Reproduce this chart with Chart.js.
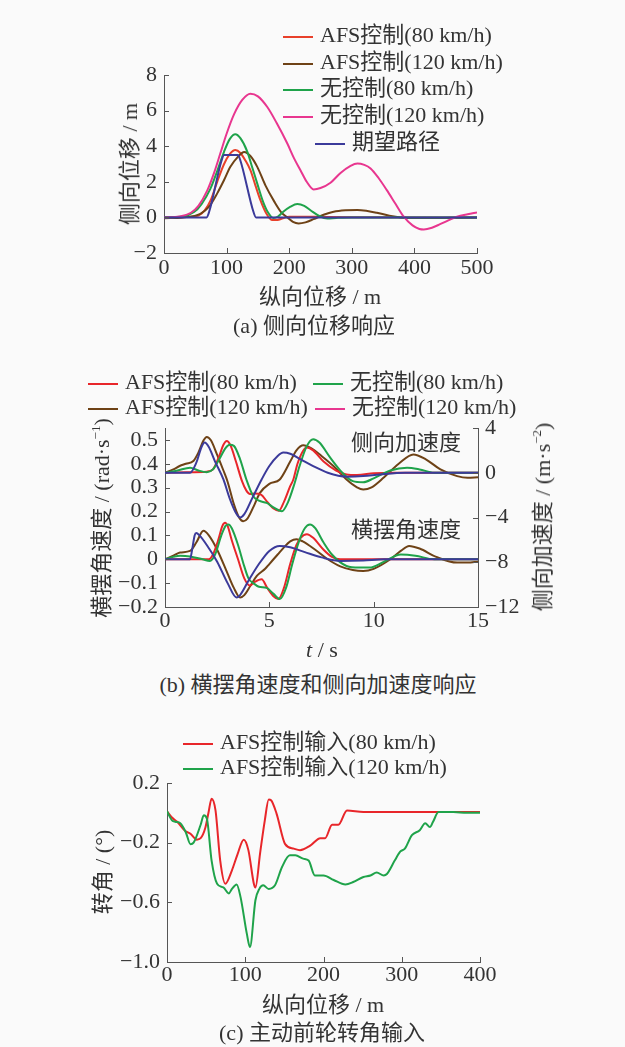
<!DOCTYPE html>
<html>
<head>
<meta charset="utf-8">
<script src="https://cdn.jsdelivr.net/npm/chart.js@4.4.1/dist/chart.umd.min.js"></script>
<style>
  html, body { margin: 0; padding: 0; }
  body {
    width: 625px; height: 1047px; position: relative; overflow: hidden;
    background: #fafafa; color: #333;
    font-family: "Liberation Serif", "Noto Sans CJK SC", serif; font-size: 22px;
  }
  canvas { position: absolute; left: 0; }
  .t { position: absolute; white-space: nowrap; line-height: 1; transform: translate(-50%, -50%); }
  .v { position: absolute; white-space: nowrap; line-height: 1; transform: translate(-50%, -50%) rotate(-90deg); }
  .leg { position: absolute; white-space: nowrap; line-height: 1; transform: translateY(-50%); }
  .leg i { display: inline-block; width: 30px; height: 2px; vertical-align: middle; margin-right: 7px; }
  sup { font-size: 13px; vertical-align: 9px; line-height: 0; }
</style>
</head>
<body>

<canvas id="chartA" width="625" height="290" style="top:0"></canvas>
<canvas id="chartB" width="625" height="340" style="top:300px"></canvas>
<canvas id="chartC" width="625" height="300" style="top:700px"></canvas>

<!-- (a) -->
<div class="leg" style="left:283px; top:35px"><i style="background:#e8402a"></i>AFS控制(80 km/h)</div>
<div class="leg" style="left:283px; top:62px"><i style="background:#6e4216"></i>AFS控制(120 km/h)</div>
<div class="leg" style="left:283px; top:88px"><i style="background:#1fa34a"></i>无控制(80 km/h)</div>
<div class="leg" style="left:283px; top:115px"><i style="background:#e8368f"></i>无控制(120 km/h)</div>
<div class="leg" style="left:315px; top:142px"><i style="background:#3b3a9a"></i>期望路径</div>
<div class="v" style="left:130px; top:164px">侧向位移 / m</div>
<div class="t" style="left:320px; top:297px">纵向位移 / m</div>
<div class="t" style="left:314px; top:326px">(a) 侧向位移响应</div>

<!-- (b) -->
<div class="leg" style="left:88px; top:382px"><i style="background:#e8262a"></i>AFS控制(80 km/h)</div>
<div class="leg" style="left:88px; top:407px"><i style="background:#6e4216"></i>AFS控制(120 km/h)</div>
<div class="leg" style="left:313px; top:382px"><i style="background:#1fa34a"></i>无控制(80 km/h)</div>
<div class="leg" style="left:315px; top:407px"><i style="background:#e8368f"></i>无控制(120 km/h)</div>
<div class="t" style="left:406px; top:443px">侧向加速度</div>
<div class="t" style="left:406px; top:530px">横摆角速度</div>
<div class="v" style="left:102px; top:518px">横摆角速度 / (rad·s<sup>−1</sup>)</div>
<div class="v" style="left:543px; top:517px">侧向加速度 / (m·s<sup>−2</sup>)</div>
<div class="t" style="left:322px; top:650px"><i>t</i> / s</div>
<div class="t" style="left:318px; top:685px">(b) 横摆角速度和侧向加速度响应</div>

<!-- (c) -->
<div class="leg" style="left:183px; top:742px"><i style="background:#e8262a"></i>AFS控制输入(80 km/h)</div>
<div class="leg" style="left:183px; top:767px"><i style="background:#1fa34a"></i>AFS控制输入(120 km/h)</div>
<div class="v" style="left:103px; top:872px">转角 / (°)</div>
<div class="t" style="left:323px; top:1005px">纵向位移 / m</div>
<div class="t" style="left:322px; top:1033px">(c) 主动前轮转角输入</div>

<script>
// (a) lateral displacement vs longitudinal distance (m)
const aAfs80X = [0, 40, 55, 65, 75, 85, 96, 105, 114, 122, 130, 138, 146, 154, 163, 173, 181, 190, 200, 240, 300, 500];
const aAfs80Y = [0, 0.02, 0.1, 0.4, 1.0, 2.0, 3.0, 3.55, 3.78, 3.62, 3.2, 2.65, 1.8, 0.97, 0.25, -0.15, -0.14, -0.05, 0.04, 0.03, 0.01, 0];
const aAfs120X = [0, 30, 58, 72, 85, 96, 106, 118, 128, 138, 149, 162, 176, 187, 197, 206, 215, 226, 239, 255, 271, 290, 309, 325, 340, 360, 378, 400, 500];
const aAfs120Y = [-0.05, 0, 0.2, 0.6, 1.35, 2.1, 2.84, 3.4, 3.68, 3.45, 2.84, 1.8, 0.9, 0.3, 0, -0.25, -0.34, -0.28, -0.1, 0.15, 0.32, 0.4, 0.42, 0.36, 0.26, 0.1, 0, -0.04, 0];
const aNo80X = [0, 30, 48, 60, 74, 85, 96, 105, 114, 122, 133, 141, 149, 157, 165, 175, 182, 190, 202, 213, 224, 234, 248, 261, 275, 300, 500];
const aNo80Y = [0, 0.05, 0.3, 0.75, 1.6, 2.6, 3.7, 4.4, 4.67, 4.45, 3.7, 2.8, 1.9, 1.0, 0.35, -0.03, 0.05, 0.3, 0.6, 0.75, 0.65, 0.4, 0.08, -0.06, -0.03, 0, 0];
const aNo120X = [0, 25, 43, 55, 69, 80, 90, 100, 112, 125, 138, 150, 165, 180, 197, 208, 218, 228, 239, 250, 266, 282, 298, 309, 320, 330, 343, 356, 370, 383, 397, 408, 415, 428, 441, 455, 468, 485, 500];
const aNo120Y = [0, 0.05, 0.26, 0.65, 1.5, 2.5, 3.6, 4.7, 5.8, 6.6, 6.95, 6.8, 6.2, 5.3, 4.15, 3.3, 2.65, 2.0, 1.57, 1.65, 1.95, 2.5, 2.9, 3.03, 2.95, 2.75, 2.2, 1.53, 0.75, 0.04, -0.45, -0.65, -0.68, -0.58, -0.38, -0.15, 0.04, 0.18, 0.28];
const aPathX = [0, 68, 72, 92, 96, 118, 122, 143, 147, 500];
const aPathY = [0, 0, 0.3, 3.2, 3.5, 3.5, 3.2, 0.3, 0, 0];
const aTicksX = [0, 100, 200, 300, 400, 500];
const aTicksY = [-2, 0, 2, 4, 6, 8];

// (b) time (s); upper group = lateral acceleration (right axis), lower group = yaw rate (left axis)
const bAccAfs80T = [0, 1.0, 2.0, 2.3, 2.6, 2.8, 2.96, 3.15, 3.4, 3.7, 3.9, 4.07, 4.3, 4.6, 4.9, 5.2, 5.45, 5.7, 6.0, 6.15, 6.35, 6.6, 6.8, 7.1, 7.6, 8.2, 8.7, 9.2, 10, 11, 15];
const bAccAfs80V = [0, 0.05, 0.1, 0.3, 1.5, 2.5, 2.84, 2.4, 1.0, -0.8, -1.6, -1.9, -1.85, -1.95, -2.6, -3.2, -3.4, -2.6, -1.2, -0.6, 0.8, 1.9, 2.25, 2.0, 1.0, 0.2, -0.15, -0.2, -0.05, 0, 0];
const bAccAfs120T = [0, 0.4, 0.7, 1.0, 1.36, 1.6, 1.85, 2.0, 2.2, 2.5, 2.8, 3.0, 3.3, 3.55, 3.75, 3.95, 4.3, 4.55, 5.0, 5.5, 6.0, 6.3, 6.63, 7.0, 7.5, 8.07, 8.7, 9.2, 9.5, 9.9, 10.5, 11.2, 11.9, 12.5, 13.2, 14.0, 14.5, 15];
const bAccAfs120V = [0, 0.3, 0.6, 0.8, 1.05, 1.8, 2.9, 3.2, 2.9, 1.6, 0.2, -0.8, -2.8, -4.0, -4.33, -4.1, -2.8, -1.8, -1.0, -0.6, 1.0, 2.0, 2.45, 2.2, 1.5, 0.6, -0.6, -1.3, -1.5, -1.3, -0.4, 0.8, 1.64, 1.2, 0.3, -0.3, -0.45, -0.4];
const bAccNo80T = [0, 0.6, 1.2, 1.6, 2.0, 2.3, 2.6, 2.9, 3.1, 3.3, 3.6, 3.9, 4.23, 4.5, 4.87, 5.2, 5.6, 5.9, 6.2, 6.45, 6.8, 7.1, 7.4, 7.9, 8.5, 9.0, 9.5, 10.0, 10.8, 11.6, 12.2, 12.9, 15];
const bAccNo80V = [0, 0.2, 0.45, 0.2, 0.05, 0.3, 1.2, 2.2, 2.5, 2.4, 1.2, -0.6, -2.1, -2.5, -2.7, -3.1, -3.45, -2.6, -1.0, 0.6, 2.4, 3.0, 2.7, 1.4, 0, -0.75, -0.85, -0.5, 0.2, 0.45, 0.3, 0, 0];
const bAccNo120T = [0, 1.2, 1.5, 1.75, 1.9, 2.1, 2.4, 2.8, 3.1, 3.4, 3.6, 3.8, 4.2, 4.63, 5.0, 5.4, 5.67, 6.0, 6.5, 7.1, 7.8, 8.7, 9.5, 10.3, 11.5, 15];
const bAccNo120V = [0, 0, 0.9, 2.3, 2.7, 2.3, 1.0, -0.6, -2.3, -3.6, -4.0, -3.7, -2.2, -0.6, 0.6, 1.5, 1.8, 1.7, 1.2, 0.6, 0, -0.35, -0.3, -0.15, 0, 0];

const bYawAfs80T = [0, 2.1, 2.3, 2.55, 2.75, 2.88, 3.0, 3.2, 3.5, 3.8, 4.07, 4.3, 4.63, 4.9, 5.2, 5.43, 5.7, 6.0, 6.3, 6.5, 6.8, 7.1, 7.6, 8.0, 8.4, 10, 15];
const bYawAfs80V = [0, 0, 0.02, 0.08, 0.14, 0.153, 0.14, 0.08, 0, -0.08, -0.11, -0.095, -0.084, -0.12, -0.155, -0.167, -0.12, -0.02, 0.06, 0.09, 0.105, 0.09, 0.04, 0.01, 0, 0, 0];
const bYawAfs120T = [0, 0.4, 0.72, 1.2, 1.5, 1.84, 2.1, 2.5, 3.0, 3.3, 3.6, 3.8, 4.1, 4.4, 4.8, 5.0, 5.4, 5.7, 6.0, 6.3, 6.6, 7.2, 7.8, 8.4, 9.0, 9.5, 10.0, 10.8, 11.3, 11.7, 12.2, 13.0, 14.0, 14.5, 15];
const bYawAfs120V = [0, 0.015, 0.028, 0.035, 0.07, 0.119, 0.1, 0.04, -0.06, -0.12, -0.16, -0.15, -0.11, -0.07, -0.04, -0.02, 0.02, 0.05, 0.075, 0.084, 0.075, 0.04, 0, -0.03, -0.045, -0.049, -0.04, 0, 0.035, 0.056, 0.045, 0.01, -0.014, -0.014, -0.01];
const bYawNo80T = [0, 0.4, 0.72, 1.2, 1.8, 2.15, 2.4, 2.7, 2.9, 3.04, 3.2, 3.5, 3.8, 4.0, 4.23, 4.5, 4.87, 5.2, 5.5, 5.8, 6.1, 6.4, 6.7, 6.95, 7.2, 7.6, 8.0, 8.7, 9.3, 9.8, 10.5, 11.3, 12.0, 12.9, 15];
const bYawNo80V = [0, 0.01, 0.015, 0.012, 0, -0.007, 0.02, 0.1, 0.14, 0.146, 0.13, 0.06, -0.03, -0.08, -0.1, -0.115, -0.12, -0.145, -0.167, -0.12, -0.02, 0.07, 0.13, 0.146, 0.13, 0.07, 0.02, -0.028, -0.035, -0.035, -0.01, 0.02, 0.015, 0, 0];
const bYawNo120T = [0, 1.2, 1.3, 1.42, 1.5, 1.65, 2.0, 2.5, 3.0, 3.43, 3.6, 4.0, 4.5, 5.0, 5.5, 6.0, 6.7, 7.5, 8.4, 9.5, 10.5, 15];
const bYawNo120V = [0, 0, 0.04, 0.1, 0.11, 0.1, 0.06, -0.01, -0.1, -0.16, -0.15, -0.09, -0.02, 0.035, 0.056, 0.05, 0.03, 0.008, -0.007, -0.005, 0, 0];
const bTicksT = [0, 5, 10, 15];
const bTicksYaw = [-0.2, -0.1, 0, 0.1, 0.2, 0.3, 0.4, 0.5];
const bTicksAcc = [-12, -8, -4, 0, 4];

// (c) steering input (deg) vs longitudinal distance (m)
const cAfs80X = [0, 6, 13, 23, 30, 38, 43, 49, 53, 57, 62, 68, 74.5, 83, 90, 98, 104, 111, 113, 119, 125, 130, 133, 140, 151, 162, 170, 183, 196, 202, 211, 219, 230, 251, 400];
const cAfs80Y = [0.01, -0.03, -0.06, -0.12, -0.14, -0.18, -0.17, -0.1, 0, 0.095, 0.016, -0.32, -0.475, -0.385, -0.28, -0.18, -0.25, -0.475, -0.5, -0.27, -0.05, 0.09, 0.085, -0.005, -0.21, -0.24, -0.25, -0.22, -0.17, -0.17, -0.08, -0.08, 0.016, 0.005, 0.005];
const cAfs120X = [0, 6.4, 10.6, 17, 24, 30, 34, 43, 47, 51, 57, 64, 72, 79, 83, 89, 94, 102, 106, 113, 118, 123, 130, 138, 147, 157, 164, 174, 181, 189, 200, 213, 228, 238, 251, 260, 268, 277, 281, 291, 298, 304, 313, 323, 330, 336, 340, 347, 366, 383, 400];
const cAfs120Y = [0.01, -0.05, -0.06, -0.07, -0.13, -0.21, -0.2, -0.08, -0.017, -0.04, -0.32, -0.475, -0.5, -0.54, -0.51, -0.48, -0.565, -0.81, -0.9, -0.586, -0.51, -0.486, -0.51, -0.486, -0.363, -0.285, -0.285, -0.307, -0.32, -0.42, -0.42, -0.45, -0.48, -0.464, -0.43, -0.42, -0.4, -0.42, -0.41, -0.32, -0.26, -0.24, -0.15, -0.117, -0.07, -0.095, -0.06, 0.005, 0.005, 0, 0];
const cTicksX = [0, 100, 200, 300, 400];
const cTicksY = [-1.0, -0.6, -0.2, 0.2];

const RED = '#e8262a', BROWN = '#6e4216', GREEN = '#1fa34a', PINK = '#e8368f', BLUE = '#3b3a9a';
const FONT = { family: 'Liberation Serif', size: 22 };

const pts = (xs, ys) => xs.map((x, i) => ({ x: x, y: ys[i] }));
const fmt = (v, d) => (v === 0 ? '0' : v.toFixed(d)).replace('-', '\u2212');

const line = (label, xs, ys, color, axis) => ({
  label: label,
  data: pts(xs, ys),
  borderColor: color,
  borderWidth: 2,
  pointRadius: 0,
  cubicInterpolationMode: 'monotone',
  yAxisID: axis || 'y'
});

// axis with a fixed set of ticks and a fixed box size, so the plot area lands where it should
const axis = (opts) => ({
  type: 'linear',
  position: opts.position,
  min: opts.min,
  max: opts.max,
  grid: { display: false, drawTicks: false },
  border: { display: true, color: '#555', width: 1 },
  ticks: {
    font: FONT, color: '#333', padding: opts.pad, maxRotation: 0, autoSkip: false,
    callback: (v) => fmt(v, opts.digits)
  },
  afterBuildTicks: (s) => { s.ticks = opts.ticks.map(v => ({ value: v })); },
  afterFit: (s) => { if (opts.width) s.width = opts.width; if (opts.height) s.height = opts.height; }
});

// short tick marks pointing into the plot
const innerTicks = {
  id: 'innerTicks',
  afterDraw(chart) {
    const ctx = chart.ctx, a = chart.chartArea;
    ctx.save();
    ctx.strokeStyle = '#555';
    ctx.lineWidth = 1;
    Object.values(chart.scales).forEach(s => {
      s.ticks.forEach(t => {
        const p = Math.round(s.getPixelForValue(t.value)) + 0.5;
        ctx.beginPath();
        if (s.axis === 'x') { ctx.moveTo(p, a.bottom); ctx.lineTo(p, a.bottom - 5); }
        else if (s.position === 'left') { ctx.moveTo(a.left, p); ctx.lineTo(a.left + 5, p); }
        else { ctx.moveTo(a.right, p); ctx.lineTo(a.right - 5, p); }
        ctx.stroke();
      });
    });
    ctx.restore();
  }
};

const base = (padding) => ({
  responsive: false,
  animation: false,
  devicePixelRatio: 1,
  layout: { padding: padding },
  plugins: { legend: { display: false }, tooltip: { enabled: false } }
});

new Chart(document.getElementById('chartA'), {
  type: 'line',
  data: {
    datasets: [
      line('期望路径', aPathX, aPathY, BLUE),
      line('无控制(120 km/h)', aNo120X, aNo120Y, PINK),
      line('无控制(80 km/h)', aNo80X, aNo80Y, GREEN),
      line('AFS控制(120 km/h)', aAfs120X, aAfs120Y, BROWN),
      line('AFS控制(80 km/h)', aAfs80X, aAfs80Y, '#e8402a')
    ]
  },
  options: Object.assign(base({ left: 0, right: 148, top: 75, bottom: 0 }), {
    scales: {
      x: axis({ position: 'bottom', min: 0, max: 500, ticks: aTicksX, digits: 0, pad: 2, height: 37 }),
      y: axis({ position: 'left', min: -2, max: 8, ticks: aTicksY, digits: 0, pad: 7, width: 164 })
    }
  }),
  plugins: [innerTicks]
});

new Chart(document.getElementById('chartB'), {
  type: 'line',
  data: {
    datasets: [
      line('无控制(120 km/h)', bAccNo120T, bAccNo120V, BLUE, 'yR'),
      line('无控制(80 km/h)', bAccNo80T, bAccNo80V, GREEN, 'yR'),
      line('AFS控制(80 km/h)', bAccAfs80T, bAccAfs80V, RED, 'yR'),
      line('AFS控制(120 km/h)', bAccAfs120T, bAccAfs120V, BROWN, 'yR'),
      line('无控制(120 km/h)', bYawNo120T, bYawNo120V, BLUE),
      line('无控制(80 km/h)', bYawNo80T, bYawNo80V, GREEN),
      line('AFS控制(80 km/h)', bYawAfs80T, bYawAfs80V, RED),
      line('AFS控制(120 km/h)', bYawAfs120T, bYawAfs120V, BROWN)
    ]
  },
  options: Object.assign(base({ left: 0, right: 0, top: 128, bottom: 0 }), {
    scales: {
      x: axis({ position: 'bottom', min: 0, max: 15, ticks: bTicksT, digits: 0, pad: 1, height: 33 }),
      y: axis({ position: 'left', min: -0.2, max: 0.55, ticks: bTicksYaw, digits: 1, pad: 7, width: 165 }),
      yR: axis({ position: 'right', min: -12, max: 4, ticks: bTicksAcc, digits: 0, pad: 7, width: 147 })
    }
  }),
  plugins: [innerTicks]
});

new Chart(document.getElementById('chartC'), {
  type: 'line',
  data: {
    datasets: [
      line('AFS控制输入(120 km/h)', cAfs120X, cAfs120Y, GREEN),
      line('AFS控制输入(80 km/h)', cAfs80X, cAfs80Y, RED)
    ]
  },
  options: Object.assign(base({ left: 0, right: 145, top: 83, bottom: 0 }), {
    scales: {
      x: axis({ position: 'bottom', min: 0, max: 400, ticks: cTicksX, digits: 0, pad: 0, height: 38 }),
      y: axis({ position: 'left', min: -1.0, max: 0.2, ticks: cTicksY, digits: 1, pad: 7, width: 167 })
    }
  }),
  plugins: [innerTicks]
});
</script>
</body>
</html>
